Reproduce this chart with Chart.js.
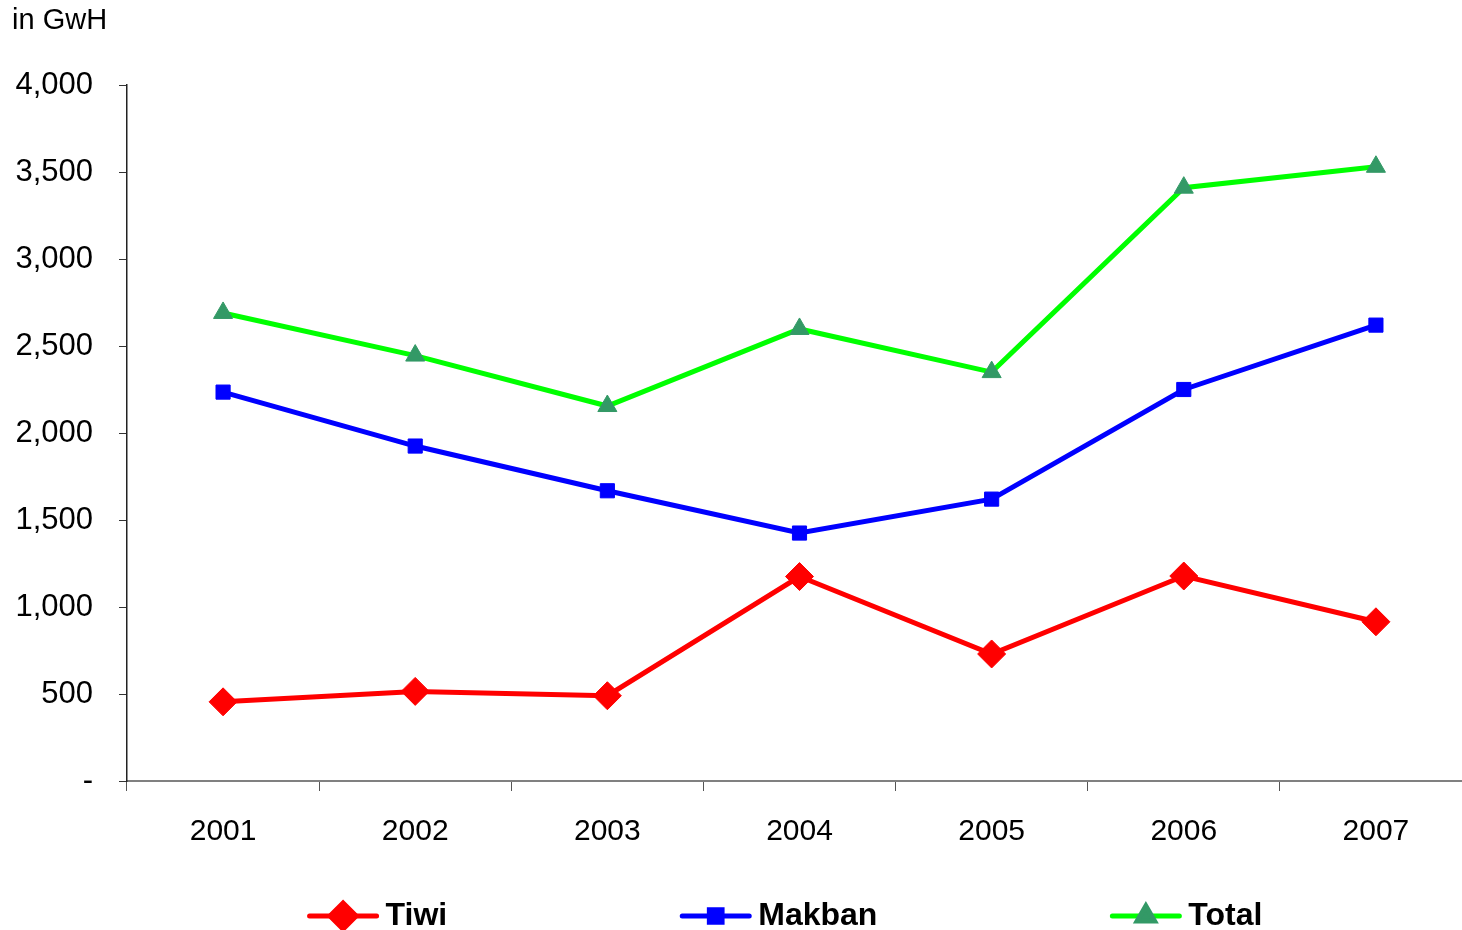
<!DOCTYPE html>
<html>
<head>
<meta charset="utf-8">
<script src="https://cdn.jsdelivr.net/npm/chart.js@4/dist/chart.umd.min.js"></script>
<style>
  html, body { margin: 0; padding: 0; background: #fff; overflow: hidden; }
  #lineChart { display: block; }
</style>
</head>
<body>
<canvas id="lineChart" width="1462" height="930"></canvas>
<script>
// 데이터
const years = ['2001', '2002', '2003', '2004', '2005', '2006', '2007'];
const tiwi = [455, 515, 490, 1175, 730, 1178, 915];
const makban = [2235, 1925, 1668, 1425, 1620, 2250, 2620];
const total = [2690, 2445, 2155, 2598, 2350, 3410, 3530];
const yTicks = [0, 500, 1000, 1500, 2000, 2500, 3000, 3500, 4000];

const FONT = 'Arial, "Liberation Sans", sans-serif';
const PLOT_RIGHT = 1472; // 원본은 플롯 영역이 오른쪽 끝에서 살짝 잘려 있음

// x축 오른쪽 끝을 캔버스 밖까지 늘리기
const stretchPlugin = {
    id: 'stretchRight',
    afterLayout(chart) {
        const xs = chart.scales.x;
        xs.right = PLOT_RIGHT;
        xs.width = xs.right - xs.left;
        chart.chartArea.right = PLOT_RIGHT;
        chart.chartArea.width = PLOT_RIGHT - chart.chartArea.left;
        xs.configure();
    }
};

// 범례 + 단위 텍스트 그리기
const legendPlugin = {
    id: 'customLegend',
    afterDraw(chart) {
        const ctx = chart.ctx;
        ctx.save();
        ctx.fillStyle = '#000';
        ctx.font = '29px ' + FONT;
        ctx.textBaseline = 'middle';
        ctx.textAlign = 'left';
        ctx.fillText('in GwH', 12, 21);

        ctx.font = 'bold 32px ' + FONT;
        const lineLen = 71, textGap = 7, itemGap = 233;
        const items = chart.data.datasets.map(ds => ({
            ds, w: lineLen + textGap + ctx.measureText(ds.label).width
        }));
        const totalW = items.reduce((s, it) => s + it.w, 0) + itemGap * (items.length - 1);
        let x = 785 - totalW / 2;
        const y = 916;
        items.forEach(it => {
            const ds = it.ds;
            ctx.strokeStyle = ds.borderColor;
            ctx.lineWidth = 5;
            ctx.lineCap = 'round';
            ctx.beginPath();
            ctx.moveTo(x + 2, y);
            ctx.lineTo(x + lineLen - 2, y);
            ctx.stroke();
            ctx.fillStyle = ds.pointBackgroundColor;
            ctx.strokeStyle = ds.pointBorderColor;
            Chart.helpers.drawPoint(ctx, {
                pointStyle: ds.pointStyle,
                radius: ds.pointRadius - 1,
                rotation: 0,
                borderWidth: 1
            }, x + lineLen / 2, y);
            ctx.fillStyle = '#000';
            ctx.fillText(ds.label, x + lineLen + textGap, y);
            x += it.w + itemGap;
        });
        ctx.restore();
    }
};

function initLineChart() {
    const ctx = document.getElementById('lineChart').getContext('2d');
    new Chart(ctx, {
        type: 'line',
        data: {
            labels: years,
            datasets: [{
                label: 'Tiwi',
                data: tiwi,
                borderColor: '#ff0000',
                borderWidth: 5,
                pointStyle: 'rectRot',
                pointRadius: 14,
                pointBackgroundColor: '#ff0000',
                pointBorderColor: '#ff0000',
                pointBorderWidth: 1
            }, {
                label: 'Makban',
                data: makban,
                borderColor: '#0000ff',
                borderWidth: 5,
                pointStyle: 'rect',
                pointRadius: 10,
                pointBackgroundColor: '#0000ff',
                pointBorderColor: '#0000ff',
                pointBorderWidth: 1
            }, {
                label: 'Total',
                data: total,
                borderColor: '#00ff00',
                borderWidth: 5,
                pointStyle: 'triangle',
                pointRadius: 11,
                pointBackgroundColor: '#339966',
                pointBorderColor: '#339966',
                pointBorderWidth: 1
            }]
        },
        options: {
            responsive: false,
            animation: false,
            layout: { padding: { top: 85, right: 0, bottom: 0, left: 0 } },
            plugins: {
                legend: { display: false },
                tooltip: { enabled: false }
            },
            scales: {
                x: {
                    offset: true,
                    grid: {
                        offset: true,
                        drawOnChartArea: false,
                        drawTicks: true,
                        tickLength: 10,
                        color: '#555'
                    },
                    border: { display: true, color: '#808080', width: 2 },
                    ticks: {
                        color: '#000',
                        font: { family: FONT, size: 30 },
                        padding: 23,
                        maxRotation: 0
                    },
                    afterFit(scale) {
                        scale.height = 149;
                        scale.paddingLeft = 0;
                        scale.paddingRight = 0;
                    }
                },
                y: {
                    min: 0,
                    max: 4000,
                    afterBuildTicks(scale) {
                        scale.ticks = yTicks.map(v => ({ value: v }));
                    },
                    grid: {
                        drawOnChartArea: false,
                        drawTicks: true,
                        tickLength: 8,
                        color: '#333'
                    },
                    border: { display: true, color: '#222', width: 1.5 },
                    ticks: {
                        color: '#000',
                        font: { family: FONT, size: 31 },
                        padding: 26,
                        callback: v => v === 0 ? '-' : v.toLocaleString('en-US')
                    },
                    afterFit(scale) { scale.width = 127; }
                }
            }
        },
        plugins: [stretchPlugin, legendPlugin]
    });
}

document.addEventListener('DOMContentLoaded', function() {
    initLineChart();
});
</script>
</body>
</html>
